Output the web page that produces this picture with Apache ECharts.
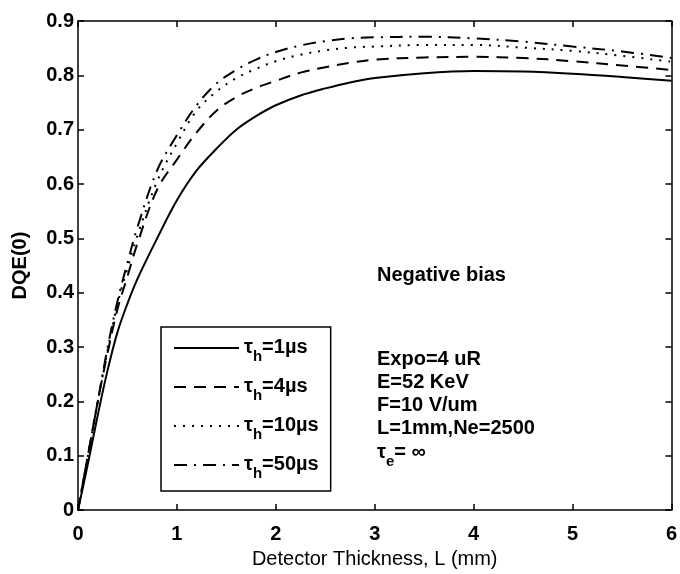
<!DOCTYPE html>
<html>
<head>
<meta charset="utf-8">
<script src="https://cdn.jsdelivr.net/npm/echarts@6/dist/echarts.min.js"></script>
<style>html,body{margin:0;padding:0;background:#fff;}#c{width:680px;height:574px;}</style>
</head>
<body>
<div id="c"></div>
<script>
// ---- data ----
var thickness = [0,0.1,0.2,0.3,0.4,0.5,0.6,0.8,1.0,1.2,1.4,1.6,1.8,2.0,2.25,2.5,2.75,3.0,3.5,4.0,4.5,5.0,5.5,6.0];
var dqe_1us  = [0,0.085,0.175,0.258,0.328,0.38,0.425,0.50,0.57,0.625,0.665,0.70,0.725,0.745,0.763,0.776,0.787,0.795,0.804,0.808,0.807,0.803,0.797,0.79];
var dqe_4us  = [0,0.10,0.20,0.29,0.37,0.43,0.49,0.59,0.645,0.695,0.735,0.76,0.777,0.79,0.805,0.815,0.823,0.829,0.833,0.834,0.832,0.826,0.818,0.81];
var dqe_10us = [0,0.10,0.20,0.295,0.38,0.445,0.505,0.605,0.675,0.735,0.77,0.795,0.812,0.826,0.838,0.846,0.851,0.853,0.856,0.856,0.851,0.845,0.836,0.825];
var dqe_50us = [0,0.10,0.20,0.30,0.385,0.455,0.52,0.625,0.69,0.745,0.785,0.81,0.829,0.843,0.855,0.863,0.868,0.870,0.871,0.868,0.862,0.853,0.844,0.832];
var seriesNames = ['1µs','4µs','10µs','50µs'];
var xTicks = [0,1,2,3,4,5,6];
var yTicks = [0,0.1,0.2,0.3,0.4,0.5,0.6,0.7,0.8,0.9];
var notes = ['Expo=4 uR','E=52 KeV','F=10 V/um','L=1mm,Ne=2500'];

function pairs(ys){ return thickness.map(function(x,i){ return [x, ys[i]]; }); }

var FONT = '"Liberation Sans", Arial, Helvetica, sans-serif';
var chart = echarts.init(document.getElementById('c'), null, {renderer:'canvas'});
var dashes = ['solid', [12,8], [2,7], [13,7,2,7]];
var datasets = [dqe_1us, dqe_4us, dqe_10us, dqe_50us];

var richTau = {
  t:{fontFamily:FONT,fontSize:20,fontWeight:'bold',color:'#000',lineHeight:22,verticalAlign:'top'},
  s:{fontFamily:FONT,fontSize:15,fontWeight:'bold',color:'#000',lineHeight:15,verticalAlign:'top',padding:[12,0,0,0]},
  m:{fontFamily:FONT,fontSize:20,fontWeight:'bold',color:'#000',lineHeight:22,verticalAlign:'top'}
};

var axisCommon = {
  min:0, axisLine:{show:true,onZero:false,lineStyle:{color:'#000',width:1.5}},
  axisTick:{show:true,inside:true,length:6,lineStyle:{color:'#000',width:1.5}},
  splitLine:{show:false}
};

var option = {
  backgroundColor:'#fff',
  animation:false,
  grid:{left:78,right:8,top:21,bottom:59},
  xAxis:[
    Object.assign({}, axisCommon, {type:'value', max:6, interval:1, position:'bottom',
      name:'Detector Thickness, L (mm)', nameLocation:'middle', nameGap:38,
      nameTextStyle:{fontFamily:FONT,fontSize:20,color:'#000'},
      axisLabel:{margin:14,fontFamily:FONT,fontSize:20,fontWeight:'bold',color:'#000',
        formatter:function(v){ return xTicks.indexOf(v)>=0 ? String(v) : ''; }}}),
    Object.assign({}, axisCommon, {type:'value', max:6, interval:1, position:'top', axisLabel:{show:false}})
  ],
  yAxis:[
    Object.assign({}, axisCommon, {type:'value', max:0.9, interval:0.1, position:'left',
      name:'DQE(0)', nameLocation:'middle', nameGap:48,
      nameTextStyle:{fontFamily:FONT,fontSize:20,fontWeight:'bold',color:'#000'},
      axisLabel:{margin:4,fontFamily:FONT,fontSize:20,fontWeight:'bold',color:'#000',
        formatter:function(v){ var r=Math.round(v*10)/10; return r===0?'0':r.toFixed(1); }}}),
    Object.assign({}, axisCommon, {type:'value', max:0.9, interval:0.1, position:'right', axisLabel:{show:false}})
  ],
  legend:{
    orient:'vertical', left:161, top:327,
    data:seriesNames,
    itemWidth:65, itemHeight:20, itemGap:12,
    padding:[10,12,10,12],
    borderColor:'#000', borderWidth:1.5, backgroundColor:'#fff',
    itemStyle:{opacity:0},
    lineStyle:{width:2},
    formatter:function(n){ return '{t|τ}{s|h}{m|=' + n + '}'; },
    textStyle:{rich:richTau}
  },
  series: seriesNames.map(function(n,i){
    return {name:n, type:'line', data:pairs(datasets[i]), smooth:0.35, symbol:'none', showSymbol:false,
      lineStyle:{color:'#000', width:2, type:dashes[i]}, itemStyle:{color:'#000'}, z:2};
  }),
  graphic:[
    {type:'text', left:377, top:265, style:{text:'Negative bias', font:'bold 20px '+FONT, fill:'#000'}}
  ].concat(notes.map(function(s,i){
    return {type:'text', left:377, top:349 + i*23.3, style:{text:s, font:'bold 20px '+FONT, fill:'#000'}};
  })).concat([
    {type:'text', left:377, top:442, style:{text:'{t|τ}{s|e}{m|= ∞}', rich:richTau}}
  ])
};
chart.setOption(option);
</script>
</body>
</html>
